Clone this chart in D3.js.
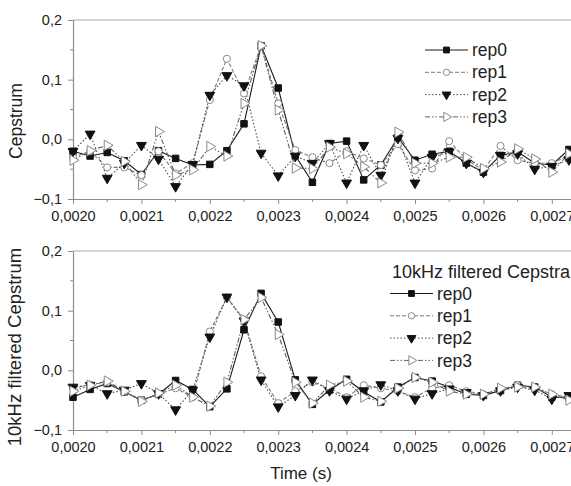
<!DOCTYPE html>
<html>
<head>
<meta charset="utf-8">
<script src="https://cdn.jsdelivr.net/npm/d3@7"></script>
<style>
  body { margin: 0; background: #fff; }
  svg { display: block; font-family: "Liberation Sans", Arial, sans-serif; }
</style>
</head>
<body>
<svg id="chart" width="571" height="486"></svg>
<script>
// sample times (s)
const times = [
  0.002000, 0.002025, 0.002050, 0.002075, 0.002100, 0.002125, 0.002150, 0.002175,
  0.002200, 0.002225, 0.002250, 0.002275, 0.002300, 0.002325, 0.002350, 0.002375,
  0.002400, 0.002425, 0.002450, 0.002475, 0.002500, 0.002525, 0.002550, 0.002575,
  0.002600, 0.002625, 0.002650, 0.002675, 0.002700, 0.002725
];

const seriesNames = ["rep0", "rep1", "rep2", "rep3"];

// raw cepstrum
const cepRep0 = [-0.020, -0.028, -0.022, -0.036, -0.059, -0.019, -0.032, -0.043, -0.042, -0.019,
  0.026, 0.157, 0.086, -0.027, -0.072, -0.007, -0.003, -0.068, -0.043, 0.003,
  -0.035, -0.025, -0.020, -0.040, -0.055, -0.027, -0.021, -0.040, -0.043, -0.017];
const cepRep1 = [-0.030, -0.020, -0.047, -0.047, -0.060, -0.020, -0.057, -0.040, 0.066, 0.135,
  0.077, 0.157, 0.060, -0.018, -0.030, -0.040, -0.020, -0.032, -0.043, -0.008,
  -0.052, -0.049, -0.003, -0.034, -0.052, -0.011, -0.035, -0.040, -0.040, -0.027];
const cepRep2 = [-0.020, 0.009, -0.065, -0.040, -0.010, -0.033, -0.079, -0.042, 0.074, 0.107,
  0.090, -0.023, -0.061, -0.028, -0.040, -0.007, -0.073, -0.010, -0.060, 0.002,
  -0.073, -0.030, -0.021, -0.040, -0.055, -0.027, -0.024, -0.050, -0.045, -0.034];
const cepRep3 = [-0.035, -0.019, -0.010, -0.037, -0.076, 0.013, -0.060, -0.051, -0.012, -0.028,
  0.060, 0.157, 0.049, -0.048, -0.049, -0.013, -0.024, -0.046, -0.073, 0.012,
  -0.040, -0.040, -0.030, -0.030, -0.049, -0.038, -0.016, -0.033, -0.055, -0.024];

// 10 kHz filtered cepstrum
const filtRep0 = [-0.045, -0.032, -0.022, -0.036, -0.050, -0.040, -0.017, -0.032, -0.061, -0.031,
  0.068, 0.129, 0.081, -0.016, -0.057, -0.033, -0.015, -0.036, -0.053, -0.028,
  -0.012, -0.018, -0.028, -0.040, -0.042, -0.034, -0.025, -0.028, -0.045, -0.045];
const filtRep1 = [-0.030, -0.024, -0.020, -0.036, -0.050, -0.040, -0.030, -0.045, 0.065, 0.122,
  0.085, -0.010, -0.055, -0.035, -0.020, -0.030, -0.045, -0.025, -0.030, -0.035,
  -0.045, -0.030, -0.025, -0.035, -0.040, -0.032, -0.025, -0.030, -0.040, -0.045];
const filtRep2 = [-0.028, -0.025, -0.039, -0.033, -0.022, -0.039, -0.066, -0.033, 0.056, 0.123,
  0.083, -0.016, -0.061, -0.042, -0.016, -0.034, -0.048, -0.034, -0.024, -0.034,
  -0.048, -0.039, -0.031, -0.037, -0.042, -0.034, -0.028, -0.033, -0.048, -0.042];
const filtRep3 = [-0.035, -0.025, -0.018, -0.035, -0.052, -0.038, -0.025, -0.045, -0.060, -0.020,
  0.085, 0.122, 0.060, -0.020, -0.055, -0.025, -0.018, -0.045, -0.052, -0.030,
  -0.012, -0.020, -0.035, -0.040, -0.040, -0.030, -0.028, -0.028, -0.040, -0.050];

const xTicks = [0.0020, 0.0021, 0.0022, 0.0023, 0.0024, 0.0025, 0.0026, 0.0027];
const xMinorTicks = [0.00205, 0.00215, 0.00225, 0.00235, 0.00245, 0.00255, 0.00265, 0.00275];
const yTicks = [-0.1, 0.0, 0.1, 0.2];
const yMinorTicks = [-0.05, 0.05, 0.15];

const locale = d3.formatLocale({ decimal: ",", thousands: ".", grouping: [3], currency: ["", ""] });
const fmtX = locale.format(".4f");
const fmtY = locale.format(".1f");

const styles = [
  { line: "#1a1a1a", dash: null, symbol: d3.symbolSquare, size: 42, fill: "#111", stroke: "#111", rot: 0 },
  { line: "#7a7a7a", dash: "4,2", symbol: d3.symbolCircle, size: 40, fill: "#fff", stroke: "#8a8a8a", rot: 0 },
  { line: "#4a4a4a", dash: "1.5,2", symbol: d3.symbolTriangle, size: 42, fill: "#111", stroke: "#111", rot: 180 },
  { line: "#5e5e5e", dash: "5,2,1.5,2,1.5,2", symbol: d3.symbolTriangle, size: 46, fill: "#fff", stroke: "#8a8a8a", rot: 90 }
];

const svg = d3.select("#chart");
const axisColor = "#8c8c8c";
const textColor = "#222";

const x = d3.scaleLinear().domain([0.0020, 0.00275]).range([73, 586]);

function drawPanel(top, bottom, series, ylabel, legendTitle, legendX, legendY) {
    const y = d3.scaleLinear().domain([-0.1, 0.2]).range([bottom, top]);
    const g = svg.append("g");

    // frame
    g.append("line").attr("x1", x.range()[0]).attr("x2", 571).attr("y1", top).attr("y2", top)
        .attr("stroke", "#aaa").attr("stroke-width", 1.2);

    const xAxis = g.append("g").attr("transform", `translate(0,${bottom})`)
        .call(d3.axisBottom(x).tickValues(xTicks).tickFormat(fmtX).tickSize(5).tickPadding(7).tickSizeOuter(0));
    xAxis.append("g").selectAll("line").data(xMinorTicks).join("line")
        .attr("x1", d => x(d)).attr("x2", d => x(d)).attr("y1", 0).attr("y2", 3);

    const yAxis = g.append("g").attr("transform", `translate(${x.range()[0]},0)`)
        .call(d3.axisLeft(y).tickValues(yTicks).tickFormat(fmtY).tickSize(5).tickPadding(6).tickSizeOuter(0));
    yAxis.append("g").selectAll("line").data(yMinorTicks).join("line")
        .attr("x1", 0).attr("x2", -3).attr("y1", d => y(d)).attr("y2", d => y(d));

    [xAxis, yAxis].forEach(a => {
        a.select(".domain").attr("stroke", axisColor).attr("stroke-width", 1.2);
        a.selectAll("line").attr("stroke", axisColor);
        a.selectAll("text").attr("fill", textColor).style("font-size", "14.5px");
    });

    g.append("text")
        .attr("transform", `translate(${ylabel.x},${ylabel.cy}) rotate(-90)`)
        .attr("text-anchor", "middle")
        .attr("fill", textColor)
        .style("font-size", ylabel.size)
        .text(ylabel.text);

    const line = d3.line().x((d, i) => x(times[i])).y(d => y(d));

    series.forEach((vals, k) => {
        const st = styles[k];
        g.append("path").datum(vals)
            .attr("d", line)
            .attr("fill", "none")
            .attr("stroke", st.line)
            .attr("stroke-width", 1.1)
            .attr("stroke-dasharray", st.dash);
    });
    series.forEach((vals, k) => {
        const st = styles[k];
        g.append("g").selectAll("path").data(vals).join("path")
            .attr("d", d3.symbol().type(st.symbol).size(st.size))
            .attr("transform", (d, i) => `translate(${x(times[i])},${y(d)}) rotate(${st.rot})`)
            .attr("fill", st.fill)
            .attr("stroke", st.stroke)
            .attr("stroke-width", 1);
    });

    // legend
    const lg = g.append("g").attr("transform", `translate(${legendX},${legendY})`);
    let offset = 0;
    if (legendTitle) {
        lg.append("text").attr("x", 2).attr("y", 0).attr("dy", "0.35em")
            .attr("fill", textColor).style("font-size", "18px").text(legendTitle);
        offset = 21.5;
    }
    seriesNames.forEach((name, k) => {
        const st = styles[k];
        const row = lg.append("g").attr("transform", `translate(0,${offset + k * 22.3})`);
        row.append("line").attr("x1", 0).attr("x2", 43).attr("y1", 0).attr("y2", 0)
            .attr("stroke", st.line).attr("stroke-width", 1).attr("stroke-dasharray", st.dash);
        row.append("path")
            .attr("d", d3.symbol().type(st.symbol).size(st.size * 0.8))
            .attr("transform", `translate(21.5,0) rotate(${st.rot})`)
            .attr("fill", st.fill).attr("stroke", st.stroke);
        row.append("text").attr("x", 47).attr("y", 0).attr("dy", "0.35em")
            .attr("fill", textColor).style("font-size", "17.5px").text(name);
    });
}

drawPanel(20, 199, [cepRep0, cepRep1, cepRep2, cepRep3],
    { text: "Cepstrum", x: 22, cy: 121, size: "17.5px" }, null, 425, 50);
drawPanel(251, 430, [filtRep0, filtRep1, filtRep2, filtRep3],
    { text: "10kHz filtered Cepstrum", x: 21, cy: 347, size: "18.5px" }, "10kHz filtered Cepstra", 390, 272);

svg.append("text")
    .attr("x", 301).attr("y", 473).attr("dy", "0.35em")
    .attr("text-anchor", "middle")
    .attr("fill", textColor)
    .style("font-size", "17px")
    .text("Time (s)");
</script>
</body>
</html>
